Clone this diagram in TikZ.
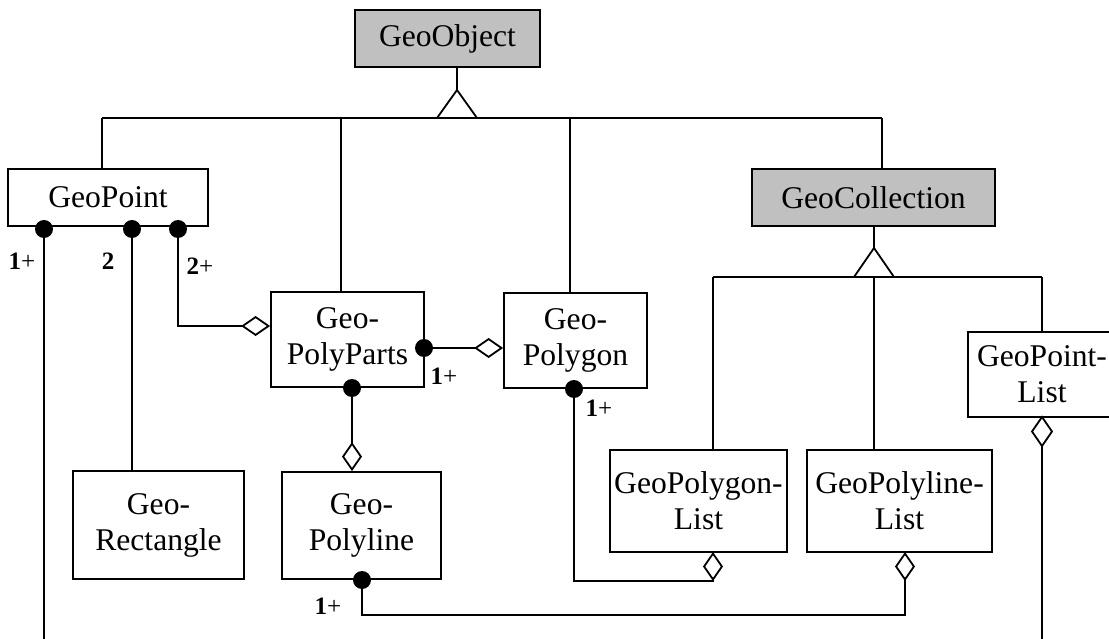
\documentclass[tikz,border=0pt]{standalone}
\usepackage{fontspec}
\setmainfont{Liberation Serif}
\usetikzlibrary{arrows.meta,calc}
\definecolor{boxgray}{RGB}{192,192,192}
\begin{document}
\begin{tikzpicture}[x=1pt,y=-1pt,
  cls/.style={draw,line width=1.8pt,inner sep=0pt,align=center,
    font=\fontsize{31.6}{36}\selectfont},
  abstractcls/.style={cls,fill=boxgray},
  link/.style={line width=1.8pt,line join=miter},
  agg/.style={link,-{Diamond[open,length=29pt,width=20pt]}},
  mult/.style={inner sep=0pt,font=\fontsize{25}{28}\selectfont},
  dot/.style={fill=black}]
\clip (0,0) rectangle (1109,639);

% classes
\node[abstractcls,minimum width=185pt,minimum height=57pt] (obj) at (447.5,38.5) {GeoObject};
\node[cls,minimum width=200pt,minimum height=57pt] (pt) at (108,197.5) {GeoPoint};
\node[abstractcls,minimum width=243pt,minimum height=57pt] (coll) at (873.5,197.5) {GeoCollection};
\node[cls,minimum width=153pt,minimum height=95pt] (parts) at (347.5,339.5) {Geo-\\PolyParts};
\node[cls,minimum width=143pt,minimum height=95pt] (poly) at (575.5,340.5) {Geo-\\Polygon};
\node[cls,minimum width=148pt,minimum height=85pt] (ptlist) at (1042,374.5) {GeoPoint-\\List};
\node[cls,minimum width=177pt,minimum height=102pt] (pgl) at (698.5,501) {GeoPolygon-\\List};
\node[cls,minimum width=185pt,minimum height=102pt] (pll) at (899.5,501) {GeoPolyline-\\List};
\node[cls,minimum width=171pt,minimum height=108pt] (rect) at (158.5,525) {Geo-\\Rectangle};
\node[cls,minimum width=159pt,minimum height=107pt] (pline) at (361.5,525.5) {Geo-\\Polyline};

% generalisation of GeoObject
\coordinate (apex1) at (457,90);
\coordinate (b1) at (102,118);
\coordinate (b2) at (341,118);
\coordinate (b3) at (570,118);
\coordinate (b4) at (882,118);
\draw[link] (apex1 |- obj.south) -- (apex1);
\draw[link] (b1) -- (b4);
\draw[link,fill=white] (apex1) -- ++(-20,28) -- ++(40,0) -- cycle;
\draw[link] (b1) -- (b1 |- pt.north);
\draw[link] (b2) -- (b2 |- parts.north);
\draw[link] (b3) -- (b3 |- poly.north);
\draw[link] (b4) -- (b4 |- coll.north);

% generalisation of GeoCollection
\coordinate (apex2) at (874,248);
\coordinate (c1) at (713,277);
\coordinate (c2) at (874,277);
\coordinate (c3) at (1042,277);
\draw[link] (apex2 |- coll.south) -- (apex2);
\draw[link] (c1) -- (c3);
\draw[link,fill=white] (apex2) -- ++(-20,29) -- ++(40,0) -- cycle;
\draw[link] (c1) -- (c1 |- pgl.north);
\draw[link] (c2) -- (c2 |- pll.north);
\draw[link] (c3) -- (c3 |- ptlist.north);

% aggregations
\coordinate (d1) at (44,229);
\coordinate (d2) at (132,229);
\coordinate (d3) at (178,229);
\coordinate (d4) at (424,348);
\coordinate (d5) at (352,388);
\coordinate (d6) at (574,389);
\coordinate (d7) at (362,580);
\coordinate (e1) at (44,639);
\coordinate (e2) at (1042,639);

\draw[link] (d1) -- (e1);
\draw[link] (d2) -- (d2 |- rect.north);
\draw[agg] (d3) -- ++(0,97) -- (parts.west |- 0,326);
\draw[agg] (d4) -- (poly.west |- d4);
\draw[agg] (d5) -- (d5 |- pline.north);
\draw[agg] (d6) -- (574,581) -- (713,581) -- (713,552);
\draw[agg] (d7) -- (362,615) -- (905,615) -- (905,552);
\draw[link] (1042,446) -- (e2);
\draw[link,fill=white] (1042,417) -- (1052,431.5) -- (1042,446) -- (1032,431.5) -- cycle;

\foreach \d in {d1,d2,d3,d4,d5,d6,d7} \fill[dot] (\d) circle (9pt);

% multiplicities
\node[mult] (m1) at (22,261) {\textbf{1}+};
\node[mult] (m2) at (108,261) {\textbf{2}};
\node[mult] (m3) at (200,266) {\textbf{2}+};
\node[mult] (m4) at (444,376) {\textbf{1}+};
\node[mult] (m5) at (599,408) {\textbf{1}+};
\node[mult] (m6) at (328,606) {\textbf{1}+};
\end{tikzpicture}
\end{document}
